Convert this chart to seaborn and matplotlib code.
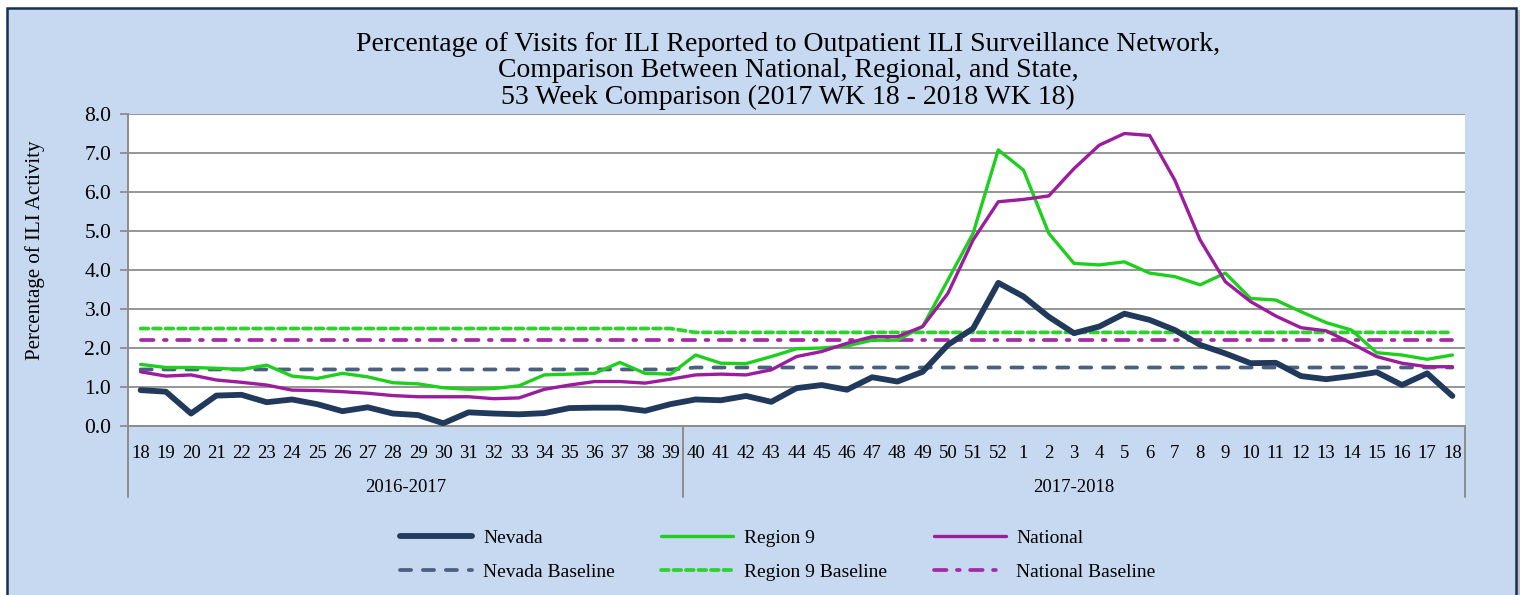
import matplotlib
matplotlib.use("Agg")
import matplotlib.pyplot as plt
import matplotlib.transforms as mtransforms
from matplotlib.patches import Rectangle
from matplotlib.lines import Line2D
import seaborn as sns
import pandas as pd

# ---------------- data ----------------
weeks = [str(w) for w in list(range(18, 53)) + list(range(1, 19))]
seasons = ["2016-2017", "2017-2018"]
season_sizes = [22, 31]

nevada = [0.92, 0.88, 0.32, 0.78, 0.80, 0.61, 0.68, 0.56, 0.38, 0.48, 0.32, 0.28, 0.07,
          0.35, 0.32, 0.30, 0.33, 0.46, 0.47, 0.47, 0.39, 0.56,
          0.68, 0.66, 0.77, 0.62, 0.97, 1.05, 0.93, 1.25, 1.14, 1.39, 2.08, 2.50, 3.67,
          3.32, 2.80, 2.38, 2.55, 2.88, 2.72, 2.46, 2.08, 1.86, 1.61, 1.62, 1.28, 1.20,
          1.28, 1.38, 1.05, 1.35, 0.77]
region9 = [1.58, 1.50, 1.50, 1.48, 1.45, 1.56, 1.28, 1.22, 1.35, 1.26, 1.11, 1.08, 0.98,
           0.94, 0.96, 1.03, 1.31, 1.33, 1.35, 1.63, 1.35, 1.33,
           1.82, 1.61, 1.60, 1.78, 1.98, 2.00, 2.05, 2.20, 2.20, 2.55, 3.74, 4.94, 7.08,
           6.56, 4.94, 4.17, 4.13, 4.21, 3.92, 3.83, 3.62, 3.92, 3.27, 3.23, 2.93, 2.65,
           2.46, 1.88, 1.82, 1.71, 1.82]
national = [1.39, 1.28, 1.31, 1.18, 1.12, 1.05, 0.92, 0.91, 0.88, 0.84, 0.78, 0.75, 0.75,
            0.75, 0.70, 0.72, 0.94, 1.05, 1.14, 1.14, 1.10, 1.20,
            1.31, 1.33, 1.31, 1.44, 1.78, 1.91, 2.12, 2.29, 2.29, 2.55, 3.40, 4.77, 5.75,
            5.81, 5.90, 6.60, 7.20, 7.50, 7.45, 6.30, 4.77, 3.70, 3.19, 2.82, 2.52, 2.44,
            2.12, 1.78, 1.61, 1.52, 1.52]
nevada_base = [1.45] * 22 + [1.50] * 31
region9_base = [2.50] * 22 + [2.40] * 31
national_base = [2.20] * 22 + [2.20] * 31

yticks = [0.0, 1.0, 2.0, 3.0, 4.0, 5.0, 6.0, 7.0, 8.0]

# ---------------- style ----------------
W, H = 1522, 595
BG = "#C6D9F0"
GRID = "#8C8C8C"
FONT = ["Liberation Serif", "DejaVu Serif"]

sns.set_theme(style="white")
plt.rcParams["font.family"] = FONT
plt.rcParams["lines.scale_dashes"] = False
plt.rcParams["text.color"] = "black"
plt.rcParams["axes.labelcolor"] = "black"

fig = plt.figure(figsize=(W / 100, H / 100), dpi=100)
fig.patch.set_facecolor("white")

# outer chart panel
fig.patches.append(Rectangle((8 / W + 0.002, -0.05), (1517 - 8) / W, 1 - 8 / H + 0.05 - 0.004,
                             transform=fig.transFigure, facecolor="#BFBFBF",
                             edgecolor="none", zorder=-3))
fig.patches.append(Rectangle((7 / W, -0.05), (1516 - 7) / W, 1 - 8 / H + 0.05,
                             transform=fig.transFigure, facecolor=BG,
                             edgecolor="#17304F", linewidth=1.8, zorder=-2))

left, right, top, bottom = 128, 1465, 114, 426
ax = fig.add_axes([left / W, 1 - bottom / H, (right - left) / W, (bottom - top) / H])
ax.set_facecolor("white")

df = pd.DataFrame({"x": range(len(weeks)), "Nevada": nevada, "Region 9": region9,
                   "National": national, "Nevada Baseline": nevada_base,
                   "Region 9 Baseline": region9_base, "National Baseline": national_base})

specs = {
    "Nevada": dict(color="#213A5C", linewidth=4.2, linestyle="-", zorder=6),
    "Region 9": dict(color="#1ECF1E", linewidth=2.4, linestyle="-", zorder=5),
    "National": dict(color="#9C1C9E", linewidth=2.4, linestyle="-", zorder=5),
    "Nevada Baseline": dict(color="#4A6080", linewidth=2.7, linestyle=(0, (8.0, 8.5)), zorder=4),
    "Region 9 Baseline": dict(color="#2DD22D", linewidth=2.7, linestyle=(0, (5.5, 3.5)), zorder=4),
    "National Baseline": dict(color="#A52AA5", linewidth=2.7,
                              linestyle=(0, (9.0, 7.5, 2.0, 7.5)), zorder=4),
}

for name in ["Nevada Baseline", "Region 9 Baseline", "National Baseline",
             "Region 9", "National", "Nevada"]:
    s = specs[name]
    sns.lineplot(data=df, x="x", y=name, ax=ax, color=s["color"], linewidth=s["linewidth"],
                 linestyle=s["linestyle"], zorder=s["zorder"], solid_capstyle="round",
                 dash_capstyle="round", solid_joinstyle="round", legend=False)

ax.set_xlim(-0.5, len(weeks) - 0.5)
ax.set_ylim(0, 8)
ax.set_yticks(yticks)
ax.set_yticklabels([f"{v:.1f}" for v in yticks], fontsize=15.5, color="black")
ax.set_xticks(range(len(weeks)))
ax.set_xticklabels(weeks, fontsize=13.5, color="black")
ax.tick_params(axis="x", length=0, pad=14)
ax.tick_params(axis="y", length=6, width=1.3, color=GRID, pad=6, left=True)
ax.set_xlabel("")
ax.set_ylabel("Percentage of ILI Activity", fontsize=15, color="black")
ax.yaxis.set_label_coords((35 - left) / (right - left), (bottom - 250) / (bottom - top))
ax.yaxis.label.set_va("center")
ax.yaxis.grid(True, color=GRID, linewidth=1.3)
ax.set_axisbelow(True)
for sp in ["top", "right"]:
    ax.spines[sp].set_visible(False)
for sp in ["left", "bottom"]:
    ax.spines[sp].set_color(GRID)
    ax.spines[sp].set_linewidth(1.4)

# multi-level category axis: separators and season labels
trans = mtransforms.blended_transform_factory(ax.transData, ax.transAxes)
sep_bottom = -(497 - 426) / (bottom - top)
edges = [-0.5]
for n in season_sizes:
    edges.append(edges[-1] + n)
for e in edges:
    ax.plot([e, e], [0, sep_bottom], transform=trans, color=GRID, linewidth=1.4,
            clip_on=False)
lab_y = -(487 - 426) / (bottom - top)
for i, sname in enumerate(seasons):
    ax.text((edges[i] + edges[i + 1]) / 2, lab_y, sname, transform=trans, ha="center",
            va="center", fontsize=13.5, color="black")

# title
fig.text(788 / W, 1 - 71 / H,
         "Percentage of Visits for ILI Reported to Outpatient ILI Surveillance Network,\n"
         "Comparison Between National, Regional, and State,\n"
         "53 Week Comparison (2017 WK 18 - 2018 WK 18)",
         ha="center", va="center", fontsize=20, linespacing=1.07, color="black")

# legend (row-major order via column-wise handles)
order = ["Nevada", "Nevada Baseline", "Region 9", "Region 9 Baseline",
         "National", "National Baseline"]
handles = [Line2D([], [], color=specs[n]["color"], linewidth=specs[n]["linewidth"],
                  linestyle=specs[n]["linestyle"], solid_capstyle="round",
                  dash_capstyle="round") for n in order]
fig.legend(handles, order, loc="center", bbox_to_anchor=(778 / W, 1 - 555 / H), ncol=3,
           frameon=False, fontsize=14, handlelength=3.7, handletextpad=0.55,
           columnspacing=2.4, labelspacing=0.85, labelcolor="black")

fig.savefig("out.png", dpi=100, facecolor=fig.get_facecolor())
